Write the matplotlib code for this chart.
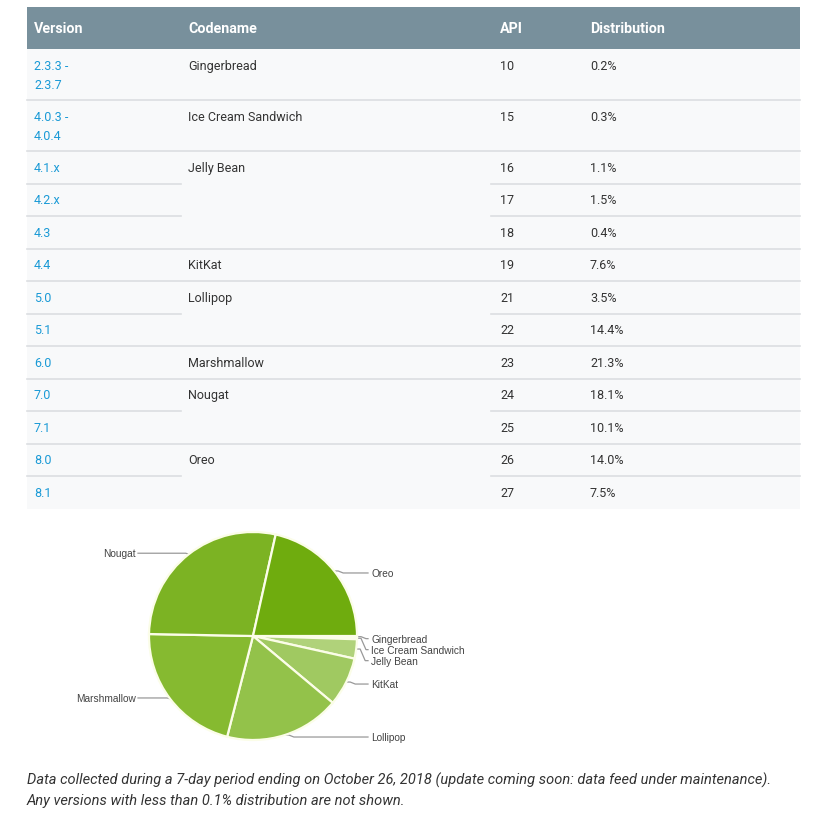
import numpy as np
import matplotlib
matplotlib.use("Agg")
import matplotlib.pyplot as plt

# table data
versions = ["2.3.3 -\n2.3.7", "4.0.3 -\n4.0.4", "4.1.x", "4.2.x", "4.3", "4.4",
            "5.0", "5.1", "6.0", "7.0", "7.1", "8.0", "8.1"]
codenames = ["Gingerbread", "Ice Cream Sandwich", "Jelly Bean", "", "", "KitKat",
             "Lollipop", "", "Marshmallow", "Nougat", "", "Oreo", ""]
apis = [10, 15, 16, 17, 18, 19, 21, 22, 23, 24, 25, 26, 27]
distribution = [0.2, 0.3, 1.1, 1.5, 0.4, 7.6, 3.5, 14.4, 21.3, 18.1, 10.1, 14.0, 7.5]
headers = ["Version", "Codename", "API", "Distribution"]

# pie data (per codename)
pie_labels = ["Gingerbread", "Ice Cream Sandwich", "Jelly Bean", "KitKat",
              "Lollipop", "Marshmallow", "Nougat", "Oreo"]
pie_values = [0.2, 0.3, 3.0, 7.6, 17.9, 21.3, 28.2, 21.5]
pie_colors = ["#d0e6ae", "#bfdc93", "#b0d27a", "#a0c961",
              "#93c24a", "#86ba30", "#7cb323", "#6fac0e"]

caption = ("Data collected during a 7-day period ending on October 26, 2018 "
           "(update coming soon: data feed under maintenance).\n"
           "Any versions with less than 0.1% distribution are not shown.")

W, H = 825, 820
fig = plt.figure(figsize=(W / 100, H / 100), dpi=100)
fig.patch.set_facecolor("white")
ax = fig.add_axes([0, 0, 1, 1])
ax.set_xlim(0, W)
ax.set_ylim(H, 0)
ax.axis("off")

plt.rcParams["font.family"] = ["Roboto", "DejaVu Sans"]

left, right = 27, 800
col_x = [34, 188, 500, 590]
split_l, split_r = 181, 491
header_top, header_bot = 8, 50

# header
ax.add_patch(plt.Rectangle((left, header_top), right - left, header_bot - header_top,
                           facecolor="#78909c", edgecolor="none"))
for x, h in zip(col_x, headers):
    ax.text(x, (header_top + header_bot) / 2, h, color="white", fontsize=10.3,
            fontweight="bold", va="center", ha="left")

# rows
y = header_bot
for i in range(len(versions)):
    two_line = "\n" in versions[i]
    rh = 51 if two_line else 32.5
    ax.add_patch(plt.Rectangle((left, y), right - left, rh,
                               facecolor="#f8f9fa", edgecolor="none", zorder=0))
    if i > 0:
        if codenames[i]:
            ax.plot([left, right], [y, y], color="#dcdee1", lw=1.2)
        else:
            ax.plot([left, split_l], [y, y], color="#dcdee1", lw=1.2)
            ax.plot([split_r, right], [y, y], color="#dcdee1", lw=1.2)
    ty = y + 10
    ax.text(col_x[0], ty, versions[i], color="#1a9ad6", fontsize=9, va="top",
            linespacing=1.6)
    ax.text(col_x[1], ty, codenames[i], color="#333333", fontsize=9, va="top")
    ax.text(col_x[2], ty, str(apis[i]), color="#333333", fontsize=9, va="top")
    ax.text(col_x[3], ty, f"{distribution[i]:.1f}%", color="#333333", fontsize=9, va="top")
    y += rh

# pie
cx, cy, r = 253, 637, 104
pax = fig.add_axes([(cx - r) / W, (H - cy - r) / H, 2 * r / W, 2 * r / H])
pax.pie(pie_values, colors=pie_colors, startangle=0, counterclock=False,
        wedgeprops=dict(edgecolor="#fbfde8", linewidth=1.6))
pax.set_xlim(-1, 1)
pax.set_ylim(-1, 1)
pax.set_aspect("auto")
pax.axis("off")

# leader lines and labels
total = sum(pie_values)
cum = np.cumsum([0] + pie_values[:-1])
mids = (cum + np.array(pie_values) / 2) / total * 360.0
anchors = []
for lab, m in zip(pie_labels, mids):
    a = np.deg2rad(m)  # clockwise from 3 o'clock, screen y goes down
    ex, ey = cx + r * np.cos(a), cy + r * np.sin(a)
    anchors.append((lab, ex, ey))

right_side = sorted([a for a in anchors if a[1] >= cx], key=lambda t: t[2])
left_side = [a for a in anchors if a[1] < cx]

last = -1e9
for lab, ex, ey in right_side:
    ly = max(ey + 2, last + 11)
    last = ly
    lx = 371
    ax.plot([ex, ex + 4, ex + 9, lx - 3], [ey, ey, ly, ly], color="#999999", lw=0.9)
    ax.text(lx, ly, lab, fontsize=7.3, color="#444444", va="center", ha="left",
            family=["Liberation Sans", "DejaVu Sans"])

for lab, ex, ey in left_side:
    ly = ey - 1
    lx = 136
    ax.plot([ex, ex - 3, lx + 2], [ey, ly, ly], color="#999999", lw=0.9)
    ax.text(lx, ly, lab, fontsize=7.3, color="#444444", va="center", ha="right",
            family=["Liberation Sans", "DejaVu Sans"])

# caption
ax.text(27, 773, caption, fontsize=10.5, style="italic", color="#333333",
        va="top", ha="left", linespacing=1.5)

fig.savefig("out.png", dpi=100, facecolor="white")
